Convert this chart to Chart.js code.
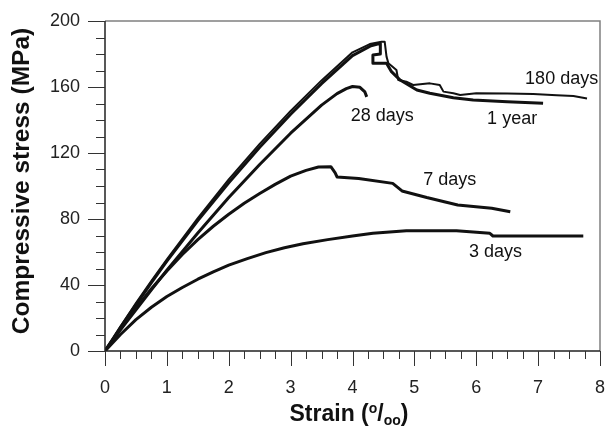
<!DOCTYPE html>
<html>
<head>
<meta charset="utf-8">
<script src="https://cdn.jsdelivr.net/npm/chart.js@4.4.1/dist/chart.umd.min.js"></script>
<style>
  html, body { margin: 0; padding: 0; background: #fff; }
  #wrap { width: 605px; height: 427px; }
</style>
</head>
<body>
<div id="wrap"><canvas id="c" width="605" height="427"></canvas></div>
<script>
// ---- data (strain in per mille, stress in MPa) ----
const strain3d   = [0, 0.25, 0.5, 0.75, 1, 1.25, 1.5, 1.75, 2, 2.3, 2.6, 2.9, 3.2, 3.6, 4, 4.33, 4.87, 5.68, 6.22, 6.27, 7.73];
const stress3d   = [0, 10, 19, 26.5, 33, 38.5, 43.5, 48, 52, 56, 59.6, 62.6, 65, 67.5, 69.7, 71.3, 72.9, 72.9, 71.3, 69.7, 69.7];

const strain7d   = [0, 0.25, 0.5, 0.75, 1, 1.25, 1.5, 1.75, 2, 2.25, 2.5, 2.75, 3, 3.25, 3.45, 3.65, 3.72, 3.75, 4.1, 4.65, 4.8, 5.2, 5.7, 6.25, 6.55];
const stress7d   = [0, 13.5, 26, 37.7, 48.5, 58.5, 67.5, 75.6, 82.9, 89.5, 95.5, 101, 106, 109.5, 111.5, 111.7, 108, 105.5, 104.6, 101.6, 97, 93, 88.5, 86.5, 84.4];

const strain28d  = [0, 0.25, 0.5, 0.75, 1, 1.5, 2, 2.5, 3, 3.25, 3.5, 3.75, 3.9, 4.0, 4.12, 4.2, 4.23];
const stress28d  = [0, 12.8, 25, 37, 49, 71.5, 93, 113, 132, 140.5, 149, 156, 159, 160.3, 159.8, 157, 154];

const strain180d = [0, 0.25, 0.5, 0.75, 1, 1.5, 2, 2.5, 3, 3.5, 4, 4.28, 4.47, 4.52, 4.55, 4.58, 4.71, 4.74, 4.87, 4.98, 5.25, 5.41, 5.47, 5.63, 5.74, 6.0, 6.5, 6.92, 7.3, 7.57, 7.79];
const stress180d = [0, 14.8, 29, 42.5, 55.5, 80.5, 104, 125.5, 145.5, 164, 181, 186, 187.5, 187.5, 178.4, 174.4, 170.3, 164.2, 163.2, 161.2, 162.2, 161.2, 157.2, 156.2, 155.2, 156.2, 156, 155.8, 155, 154.5, 153];

const strain1y   = [0, 0.25, 0.5, 0.75, 1, 1.5, 2, 2.5, 3, 3.5, 4, 4.3, 4.45, 4.45, 4.33, 4.33, 4.55, 4.63, 4.77, 5.04, 5.25, 5.63, 5.95, 6.5, 7.08];
const stress1y   = [0, 14.3, 28, 41.5, 54.5, 79, 102, 123.5, 143.5, 162, 179, 185, 186.5, 180, 179.4, 174.4, 174.4, 169.3, 164.2, 158.2, 156.2, 153.5, 152.1, 151, 150.1];

const seriesNames = ['3 days', '7 days', '28 days', '180 days', '1 year'];
const xTickLabels = ['0', '1', '2', '3', '4', '5', '6', '7', '8'];
const yTickLabels = ['0', '40', '80', '120', '160', '200'];

function pts(xs, ys) { return xs.map((x, i) => ({ x: x, y: ys[i] })); }

const FONT = '"Liberation Sans", Arial, Helvetica, sans-serif';

// curve labels (placed in data coordinates)
const curveLabels = [
  { text: '180 days', x: 7.38, y: 164.8 },
  { text: '28 days',  x: 4.48, y: 142.4 },
  { text: '1 year',   x: 6.58, y: 140.6 },
  { text: '7 days',   x: 5.57, y: 103.6 },
  { text: '3 days',   x: 6.31, y: 60.0 }
];

const decor = {
  id: 'decor',
  afterDraw(chart) {
    const ctx = chart.ctx;
    const xs = chart.scales.x, ys = chart.scales.y;
    const a = chart.chartArea;
    ctx.save();
    // frame (top/right) grey
    ctx.strokeStyle = '#808080';
    ctx.lineWidth = 1.5;
    ctx.beginPath();
    ctx.moveTo(a.left, a.top); ctx.lineTo(a.right, a.top); ctx.lineTo(a.right, a.bottom);
    ctx.stroke();
    // axes
    ctx.strokeStyle = '#222';
    ctx.lineWidth = 1.5;
    ctx.beginPath();
    ctx.moveTo(a.left, a.top); ctx.lineTo(a.left, a.bottom); ctx.lineTo(a.right, a.bottom);
    ctx.stroke();
    // ticks
    ctx.strokeStyle = '#333';
    ctx.lineWidth = 1;
    ctx.beginPath();
    for (let i = 0; i <= 32; i++) {
      const v = i * 0.25;
      const px = Math.round(xs.getPixelForValue(v)) + 0.5;
      const len = (i % 4 === 0) ? 15 : 8;
      ctx.moveTo(px, a.bottom); ctx.lineTo(px, a.bottom + len);
    }
    for (let i = 0; i <= 20; i++) {
      const v = i * 10;
      const py = Math.round(ys.getPixelForValue(v)) + 0.5;
      const len = (i % 4 === 0) ? 17 : 9;
      ctx.moveTo(a.left, py); ctx.lineTo(a.left - len, py);
    }
    ctx.stroke();

    // curve labels
    ctx.fillStyle = '#111';
    ctx.font = '18px ' + FONT;
    ctx.textAlign = 'center';
    ctx.textBaseline = 'middle';
    curveLabels.forEach(l => {
      ctx.fillText(l.text, xs.getPixelForValue(l.x), ys.getPixelForValue(l.y));
    });

    // x axis title: Strain (°/oo) with super/subscripts
    const big = 'bold 23px ' + FONT;
    const small = 'bold 14px ' + FONT;
    const parts = [
      { t: 'Strain (', f: big, dy: 0 },
      { t: 'o', f: small, dy: -8 },
      { t: '/', f: big, dy: 0 },
      { t: 'oo', f: small, dy: 4 },
      { t: ')', f: big, dy: 0 }
    ];
    let total = 0;
    parts.forEach(p => { ctx.font = p.f; p.w = ctx.measureText(p.t).width; total += p.w; });
    let cx = 349 - total / 2;
    const base = 421;
    ctx.textAlign = 'left';
    ctx.textBaseline = 'alphabetic';
    parts.forEach(p => { ctx.font = p.f; ctx.fillText(p.t, cx, base + p.dy); cx += p.w; });

    // y axis title
    ctx.save();
    ctx.translate(22, 181);
    ctx.rotate(-Math.PI / 2);
    ctx.font = 'bold 24.5px ' + FONT;
    ctx.textAlign = 'center';
    ctx.textBaseline = 'middle';
    ctx.fillText('Compressive stress (MPa)', 0, 0);
    ctx.restore();

    ctx.restore();
  }
};

const lineStyle = { borderColor: '#111', borderWidth: 3, pointRadius: 0, tension: 0, fill: false, borderJoinStyle: 'round' };

function noPad(s) { s.paddingLeft = 0; s.paddingRight = 0; s.paddingTop = 0; s.paddingBottom = 0; }

new Chart(document.getElementById('c'), {
  type: 'line',
  data: {
    datasets: [
      Object.assign({ label: seriesNames[0], data: pts(strain3d, stress3d) }, lineStyle),
      Object.assign({ label: seriesNames[1], data: pts(strain7d, stress7d) }, lineStyle),
      Object.assign({ label: seriesNames[2], data: pts(strain28d, stress28d) }, lineStyle),
      Object.assign({ label: seriesNames[3], data: pts(strain180d, stress180d) }, lineStyle, { borderWidth: 2 }),
      Object.assign({ label: seriesNames[4], data: pts(strain1y, stress1y) }, lineStyle)
    ]
  },
  options: {
    responsive: false,
    animation: false,
    layout: { padding: { left: 0, right: 5, top: 21, bottom: 0 } },
    plugins: { legend: { display: false }, tooltip: { enabled: false }, title: { display: false } },
    scales: {
      x: {
        type: 'linear', min: 0, max: 8,
        grid: { display: false, drawTicks: false },
        border: { display: false },
        ticks: {
          stepSize: 1, autoSkip: false, padding: 26, color: '#222', maxRotation: 0,
          font: { family: FONT, size: 18 },
          callback: (v) => xTickLabels[Math.round(v)] ?? ''
        },
        afterFit: (s) => { s.height = 76; noPad(s); }
      },
      y: {
        type: 'linear', min: 0, max: 200,
        grid: { display: false, drawTicks: false },
        border: { display: false },
        ticks: {
          stepSize: 40, autoSkip: false, padding: 25, color: '#222',
          font: { family: FONT, size: 18 },
          callback: (v) => yTickLabels[Math.round(v / 40)] ?? ''
        },
        afterFit: (s) => { s.width = 105; noPad(s); }
      }
    }
  },
  plugins: [decor]
});
</script>
</body>
</html>
